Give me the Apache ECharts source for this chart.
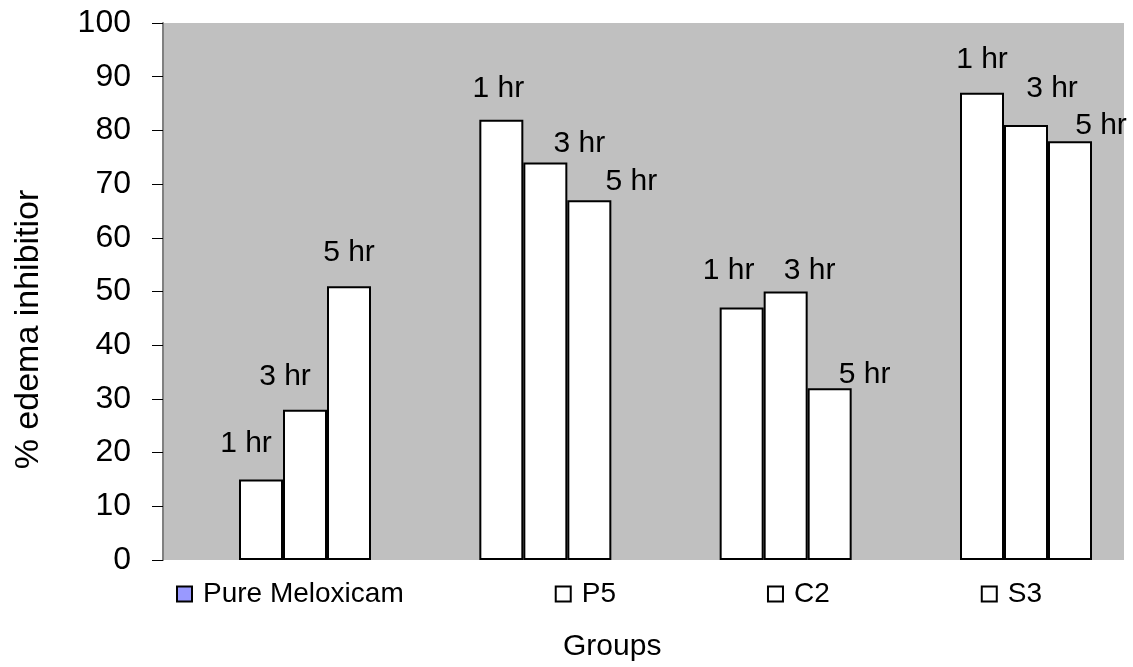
<!DOCTYPE html>
<html>
<head>
<meta charset="utf-8">
<script src="https://cdn.jsdelivr.net/npm/echarts@6/dist/echarts.min.js"></script>
<style>
  html, body { margin: 0; padding: 0; background: #ffffff; }
  #chart { width: 1133px; height: 667px; }
</style>
</head>
<body>
<div id="chart"></div>
<script>
// ---- data ----
const groups = ['Pure Meloxicam', 'P5', 'C2', 'S3'];
const timePoints = ['1 hr', '3 hr', '5 hr'];
const values1hr = [15, 82, 47, 87];
const values3hr = [28, 74, 50, 81];
const values5hr = [51, 67, 32, 78];
const yTicks = [0, 10, 20, 30, 40, 50, 60, 70, 80, 90, 100];

// ---- styles (label placement as in the reference) ----
const labelOffsets1hr = [[-15, -21], [-3, -16], [-13, -22], [0, -18]];
const labelOffsets3hr = [[-20, -18], [34, -4], [24, -6], [26, -21]];
const labelOffsets5hr = [[0, -18], [42, -3], [35, 2], [31, 0]];
const legendColors = ['#9999FF', '#FFFFFF', '#FFFFFF', '#FFFFFF'];

const seriesValues = [values1hr, values3hr, values5hr];
const seriesOffsets = [labelOffsets1hr, labelOffsets3hr, labelOffsets5hr];

const FONT = 'Liberation Sans, Arial, sans-serif';

const chart = echarts.init(document.getElementById('chart'), null, { renderer: 'canvas' });

const barSeries = timePoints.map((name, s) => ({
  name: name,
  type: 'bar',
  xAxisIndex: 1,
  yAxisIndex: 1,
  barWidth: 44,
  barGap: '0%',
  clip: false,
  silent: true,
  itemStyle: { color: '#FFFFFF', borderColor: '#000000', borderWidth: 2 },
  label: {
    show: true,
    position: 'top',
    distance: 0,
    formatter: '{a}',
    fontFamily: FONT,
    fontSize: 30,
    color: '#000000'
  },
  data: seriesValues[s].map((v, i) => ({
    value: v,
    label: { offset: seriesOffsets[s][i] }
  }))
}));

const legendSeries = groups.map((name, i) => ({
  name: name,
  type: 'bar',
  xAxisIndex: 0,
  yAxisIndex: 0,
  itemStyle: { color: legendColors[i], borderColor: '#000000', borderWidth: 2 },
  data: []
}));

const option = {
  animation: false,
  backgroundColor: '#FFFFFF',
  title: {
    text: 'Groups',
    left: 563,
    top: 632,
    padding: 0,
    textStyle: { fontFamily: FONT, fontSize: 30, fontWeight: 'normal', color: '#000000' }
  },
  legend: {
    data: groups.map((name, i) => ({
      name: name,
      icon: 'rect',
      itemStyle: { color: legendColors[i], borderColor: '#000000', borderWidth: 2 }
    })),
    left: 176,
    top: 580,
    padding: 0,
    itemGap: 151,
    itemWidth: 15,
    itemHeight: 15,
    selectedMode: false,
    textStyle: { fontFamily: FONT, fontSize: 28, color: '#000000', padding: [0, 0, 0, 6] }
  },
  grid: [
    { left: 163, width: 961, top: 23, bottom: 107, show: true, backgroundColor: '#C0C0C0', borderWidth: 0 },
    { left: 305, width: 721, top: 23, bottom: 107, show: false }
  ],
  xAxis: [
    { type: 'category', gridIndex: 0, data: groups, show: false },
    { type: 'category', gridIndex: 1, data: groups, show: false, boundaryGap: false }
  ],
  yAxis: [
    {
      type: 'value',
      gridIndex: 0,
      min: yTicks[0],
      max: yTicks[yTicks.length - 1],
      interval: yTicks[1] - yTicks[0],
      name: '% edema inhibitior',
      nameLocation: 'middle',
      nameRotate: 90,
      nameGap: 117,
      nameTextStyle: { fontFamily: FONT, fontSize: 34, color: '#000000', padding: [0, 76, 0, 0] },
      axisLine: { show: true, lineStyle: { color: '#808080', width: 2 } },
      axisTick: { show: true, length: 11, lineStyle: { color: '#000000', width: 1 } },
      axisLabel: { fontFamily: FONT, fontSize: 32, color: '#000000', margin: 32 },
      splitLine: { show: false }
    },
    {
      type: 'value',
      gridIndex: 1,
      min: yTicks[0],
      max: yTicks[yTicks.length - 1],
      interval: yTicks[1] - yTicks[0],
      show: false,
      splitLine: { show: false }
    }
  ],
  series: barSeries.concat(legendSeries)
};

chart.setOption(option);
</script>
</body>
</html>
